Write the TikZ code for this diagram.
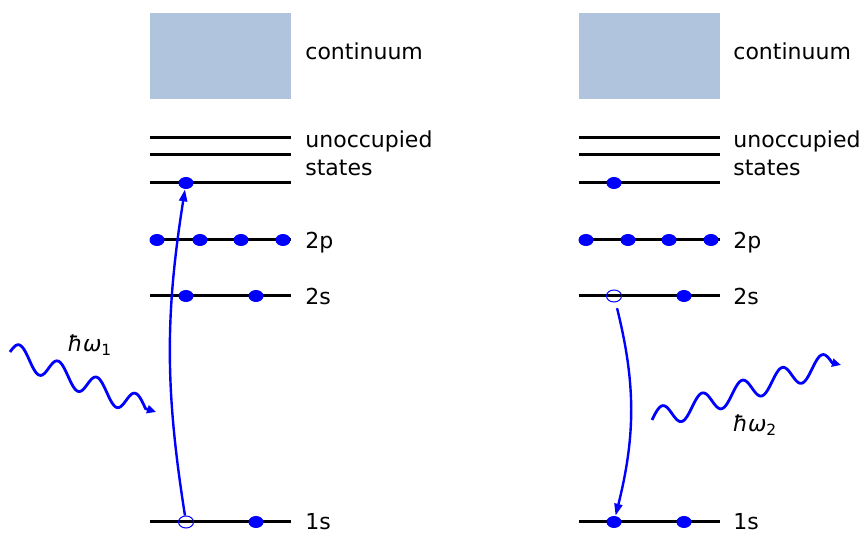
\documentclass[tikz,border=0pt]{standalone}
\usepackage{fontspec}
\setmainfont{DejaVu Sans}
\usetikzlibrary{arrows.meta, shapes.geometric, positioning}
\definecolor{contblue}{RGB}{176,196,222}

\begin{document}
\begin{tikzpicture}[
    x=0.5pt, y=-0.5pt,
    font=\fontsize{11}{13}\selectfont,
    level/.style={line width=1.5pt},
    cont/.style={fill=contblue},
    electron/.style={ellipse, fill=blue, minimum width=7.5pt, minimum height=6pt, inner sep=0pt},
    hole/.style={ellipse, draw=blue, line width=0.5pt, minimum width=7.5pt, minimum height=6pt, inner sep=0pt},
    lbl/.style={anchor=base west, inner sep=0pt},
    trans/.style={blue, line width=1.2pt, -{Triangle[length=6pt,width=4pt]}},
    photon/.style={blue, line width=1.4pt, -{Triangle[length=4.5pt,width=4pt]}}
]
    \useasboundingbox (0,0) rectangle (862,533);

    % left panel: absorption
    \fill[cont] (150,13) rectangle (291,99);
    \foreach \y in {138,155,183,240,296,522}
        \draw[level] (150,\y) -- (291,\y);
    \node[lbl] (lcont) at (305,60) {continuum};
    \node[lbl] (lunocc) at (305,148) {unoccupied};
    \node[lbl] (lstates) at (305,176) {states};
    \node[lbl] (l2p) at (305,249) {2p};
    \node[lbl] (l2s) at (305,305) {2s};
    \node[lbl] (l1s) at (305,530) {1s};

    \node[electron] (lup) at (186,183) {};
    \foreach \x [count=\i] in {157,200,241,283}
        \node[electron] (lp\i) at (\x,240) {};
    \node[electron] (ls1) at (186,296) {};
    \node[electron] (ls2) at (256,296) {};
    \node[hole] (lhole) at (186,522) {};
    \node[electron] (lk2) at (256,522) {};

    \draw[trans] (lhole) to[bend left=9] (lup);

    % incoming photon
    \coordinate (phin) at (10,352);
    \coordinate (phinend) at (156,412);
    \begin{scope}[shift={(phin)}]
        \draw[photon] plot[domain=0:135.5, samples=120, smooth] (\x, {0.417*\x - 11*sin(9.302*\x)}) -- (phinend);
    \end{scope}
    \node (win) at (90,345) {\textit{ħω}\textsubscript{1}};

    % right panel: emission
    \fill[cont] (579,13) rectangle (720,99);
    \foreach \y in {138,155,183,240,296,522}
        \draw[level] (579,\y) -- (720,\y);
    \node[lbl] (rcont) at (733,60) {continuum};
    \node[lbl] (runocc) at (733,148) {unoccupied};
    \node[lbl] (rstates) at (733,176) {states};
    \node[lbl] (r2p) at (733,249) {2p};
    \node[lbl] (r2s) at (733,305) {2s};
    \node[lbl] (r1s) at (733,530) {1s};

    \node[electron] (rup) at (614,183) {};
    \foreach \x [count=\i] in {586,628,669,711}
        \node[electron] (rp\i) at (\x,240) {};
    \node[hole] (rhole) at (614,296) {};
    \node[electron] (rs2) at (684,296) {};
    \node[electron] (rk1) at (614,522) {};
    \node[electron] (rk2) at (684,522) {};

    \draw[trans, shorten <=3pt] (rhole) to[bend left=14] (rk1);

    % outgoing photon
    \coordinate (phout) at (652,420);
    \coordinate (phoutend) at (841,365);
    \begin{scope}[shift={(phout)}]
        \draw[photon] plot[domain=0:180, samples=150, smooth] (\x, {-0.319*\x - 11*sin(9*\x)}) -- (phoutend);
    \end{scope}
    \node (wout) at (755,425) {\textit{ħω}\textsubscript{2}};
\end{tikzpicture}
\end{document}
